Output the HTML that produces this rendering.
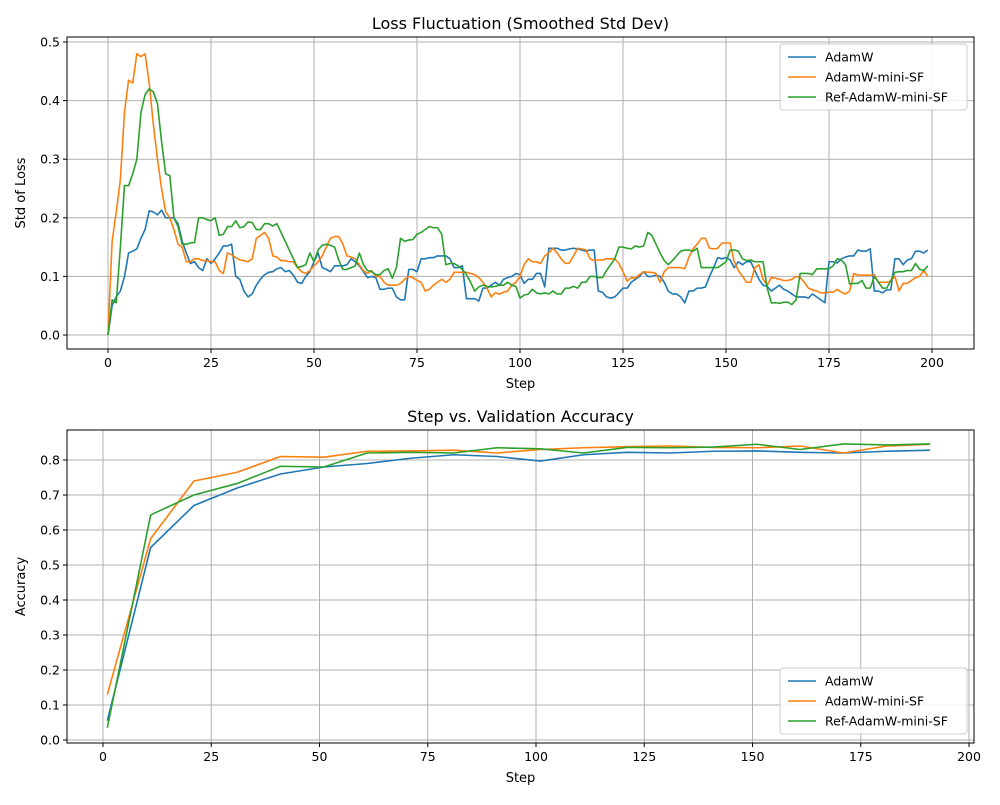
<!DOCTYPE html>
<html><head><meta charset="utf-8"><style>
body{margin:0;background:#fff}
svg{font-family:"DejaVu Sans","Liberation Sans",sans-serif}
</style></head><body>
<svg id="fig" width="1000" height="800" viewBox="0 0 1000 800"></svg>
<script>
const topAdamW=[0,0.05,0.065,0.075,0.1,0.14,0.143,0.147,0.165,0.18,0.212,0.21,0.205,0.213,0.2,0.2,0.2,0.19,0.16,0.14,0.122,0.125,0.115,0.11,0.13,0.122,0.13,0.14,0.152,0.152,0.155,0.1,0.095,0.075,0.065,0.07,0.085,0.095,0.103,0.107,0.108,0.113,0.115,0.108,0.11,0.102,0.09,0.088,0.1,0.108,0.125,0.14,0.115,0.112,0.108,0.118,0.118,0.118,0.12,0.13,0.125,0.118,0.108,0.098,0.1,0.098,0.078,0.078,0.08,0.08,0.065,0.06,0.06,0.112,0.112,0.108,0.13,0.13,0.132,0.132,0.135,0.135,0.135,0.13,0.115,0.115,0.118,0.062,0.062,0.062,0.058,0.08,0.08,0.085,0.09,0.085,0.095,0.098,0.1,0.105,0.103,0.088,0.095,0.095,0.105,0.105,0.082,0.148,0.148,0.148,0.145,0.145,0.147,0.148,0.147,0.145,0.143,0.145,0.145,0.075,0.073,0.065,0.063,0.065,0.072,0.08,0.08,0.09,0.095,0.1,0.108,0.1,0.1,0.102,0.1,0.09,0.075,0.07,0.07,0.065,0.055,0.075,0.075,0.08,0.08,0.082,0.1,0.115,0.132,0.13,0.132,0.128,0.115,0.125,0.12,0.125,0.125,0.11,0.095,0.085,0.083,0.075,0.08,0.085,0.078,0.075,0.07,0.065,0.065,0.065,0.063,0.07,0.065,0.06,0.055,0.125,0.125,0.123,0.13,0.133,0.135,0.135,0.145,0.143,0.143,0.147,0.075,0.075,0.072,0.077,0.077,0.13,0.13,0.12,0.128,0.13,0.143,0.143,0.14,0.145];
const topMiniSF=[0,0.16,0.21,0.265,0.38,0.435,0.43,0.48,0.475,0.48,0.43,0.36,0.3,0.25,0.21,0.2,0.18,0.155,0.15,0.125,0.125,0.13,0.13,0.127,0.127,0.125,0.125,0.11,0.105,0.14,0.137,0.132,0.128,0.127,0.125,0.13,0.165,0.17,0.175,0.165,0.135,0.133,0.127,0.127,0.125,0.125,0.115,0.108,0.105,0.11,0.118,0.125,0.135,0.15,0.165,0.168,0.168,0.155,0.135,0.133,0.13,0.12,0.11,0.105,0.11,0.1,0.1,0.09,0.085,0.085,0.085,0.088,0.095,0.1,0.098,0.093,0.09,0.075,0.078,0.085,0.09,0.095,0.09,0.095,0.107,0.107,0.107,0.107,0.105,0.103,0.098,0.09,0.08,0.065,0.072,0.07,0.073,0.075,0.085,0.09,0.1,0.12,0.13,0.125,0.125,0.122,0.135,0.14,0.148,0.14,0.13,0.122,0.123,0.135,0.148,0.147,0.145,0.13,0.127,0.128,0.128,0.13,0.13,0.13,0.122,0.108,0.092,0.098,0.097,0.103,0.108,0.107,0.107,0.105,0.09,0.108,0.115,0.115,0.115,0.115,0.113,0.133,0.147,0.155,0.165,0.165,0.148,0.147,0.148,0.157,0.157,0.157,0.125,0.11,0.1,0.09,0.09,0.115,0.12,0.095,0.085,0.098,0.097,0.095,0.093,0.093,0.095,0.1,0.098,0.09,0.08,0.077,0.075,0.072,0.072,0.073,0.073,0.078,0.073,0.07,0.075,0.105,0.102,0.102,0.102,0.102,0.103,0.09,0.09,0.09,0.092,0.1,0.075,0.088,0.088,0.093,0.098,0.1,0.11,0.1];
const topRef=[0,0.06,0.055,0.15,0.255,0.255,0.275,0.3,0.38,0.41,0.42,0.415,0.395,0.33,0.275,0.272,0.2,0.185,0.155,0.155,0.157,0.158,0.2,0.2,0.197,0.195,0.2,0.17,0.172,0.185,0.185,0.195,0.183,0.185,0.193,0.192,0.18,0.18,0.19,0.19,0.186,0.19,0.175,0.16,0.145,0.13,0.115,0.117,0.12,0.14,0.125,0.145,0.153,0.155,0.153,0.15,0.128,0.112,0.112,0.115,0.118,0.14,0.12,0.11,0.108,0.103,0.103,0.11,0.113,0.097,0.115,0.165,0.16,0.162,0.163,0.172,0.175,0.18,0.185,0.183,0.183,0.172,0.12,0.122,0.122,0.118,0.112,0.103,0.09,0.075,0.082,0.085,0.083,0.082,0.083,0.085,0.085,0.09,0.085,0.083,0.063,0.068,0.07,0.078,0.072,0.07,0.072,0.07,0.075,0.07,0.07,0.08,0.08,0.083,0.08,0.09,0.09,0.1,0.1,0.098,0.098,0.11,0.12,0.13,0.15,0.15,0.148,0.147,0.152,0.15,0.152,0.175,0.17,0.155,0.14,0.127,0.12,0.127,0.135,0.143,0.145,0.145,0.143,0.148,0.115,0.115,0.115,0.115,0.115,0.12,0.125,0.145,0.145,0.143,0.13,0.127,0.128,0.125,0.125,0.125,0.08,0.055,0.055,0.054,0.056,0.056,0.052,0.06,0.105,0.105,0.105,0.103,0.113,0.113,0.113,0.113,0.118,0.13,0.128,0.12,0.087,0.088,0.088,0.093,0.08,0.08,0.1,0.09,0.08,0.08,0.093,0.107,0.108,0.108,0.11,0.11,0.122,0.112,0.11,0.118];
const accSteps=[1,11,21,31,41,51,61,71,81,91,101,111,121,131,141,151,161,171,181,191];
const accAdamW=[0.055,0.55,0.67,0.72,0.76,0.78,0.79,0.805,0.815,0.81,0.797,0.815,0.822,0.82,0.825,0.826,0.822,0.82,0.825,0.828];
const accMiniSF=[0.13,0.575,0.74,0.765,0.81,0.808,0.825,0.826,0.828,0.82,0.83,0.835,0.838,0.84,0.836,0.835,0.84,0.82,0.84,0.845];
const accRef=[0.035,0.643,0.70,0.733,0.782,0.78,0.82,0.822,0.82,0.835,0.832,0.82,0.836,0.835,0.837,0.845,0.83,0.846,0.843,0.846];
const topXTicks=[0,25,50,75,100,125,150,175,200];
const topYTicks=[0,0.1,0.2,0.3,0.4,0.5];
const botXTicks=[0,25,50,75,100,125,150,175,200];
const botYTicks=[0,0.1,0.2,0.3,0.4,0.5,0.6,0.7,0.8];
const seriesNames=["AdamW","AdamW-mini-SF","Ref-AdamW-mini-SF"];
const colors=["#1f77b4","#ff7f0e","#2ca02c"];

const NS="http://www.w3.org/2000/svg";
const svg=document.getElementById('fig');
function mk(tag,attrs,parent){const e=document.createElementNS(NS,tag);for(const k in attrs)e.setAttribute(k,attrs[k]);(parent||svg).appendChild(e);return e;}

function drawAxes(cfg){
  const g=mk('g',{});
  
  
  const {L,R,T,B,x,y}=cfg;
  cfg.xt.forEach(v=>{
    const px=x(v);
    const gl=mk('line',{x1:px,x2:px,y1:T,y2:B,stroke:'#b0b0b0','stroke-width':1},g);
    
    mk('line',{x1:px,x2:px,y1:B,y2:B+4,stroke:'#000'},g);
    const t=mk('text',{x:px,y:B+18,'text-anchor':'middle','font-size':12.5},g);
    t.textContent=v;
    
  });
  cfg.yt.forEach(v=>{
    const py=y(v);
    const gl=mk('line',{x1:L,x2:R,y1:py,y2:py,stroke:'#b0b0b0','stroke-width':1},g);
    
    mk('line',{x1:L-4,x2:L,y1:py,y2:py,stroke:'#000'},g);
    const t=mk('text',{x:L-7,y:py+4.5,'text-anchor':'end','font-size':12.5},g);
    t.textContent=v.toFixed(1);
    
  });
  cfg.series.forEach((s,i)=>{
    const d=s.ys.map((v,j)=>(j?'L':'M')+x(s.xs[j]).toFixed(2)+','+y(v).toFixed(2)).join('');
    const p=mk('path',{d:d,fill:'none',stroke:colors[i],'stroke-width':1.6,'stroke-linejoin':'round'},g);
    
    
  });
  mk('rect',{x:L,y:T,width:R-L,height:B-T,fill:'none',stroke:'#000','stroke-width':1},g);
  const tt=mk('text',{x:(L+R)/2,y:T-8,'text-anchor':'middle','font-size':16},g);
  tt.textContent=cfg.title;
  const xl=mk('text',{x:(L+R)/2,y:B+39,'text-anchor':'middle','font-size':13},g);
  xl.textContent='Step';
  const yl=mk('text',{x:0,y:0,'text-anchor':'middle','font-size':13,transform:`translate(${cfg.ylx},${(T+B)/2}) rotate(-90)`},g);
  yl.textContent=cfg.ylabel;
  // legend
  const lg=mk('g',{},g);
  
  mk('rect',{x:cfg.lx,y:cfg.ly,width:187,height:66,rx:3,fill:'#fff','fill-opacity':0.85,stroke:'#cccccc'},lg);
  seriesNames.forEach((n,i)=>{
    const yy=cfg.ly+13+i*20;
    const e=mk('g',{},lg);
    
    mk('line',{x1:cfg.lx+8,x2:cfg.lx+36,y1:yy,y2:yy,stroke:colors[i],'stroke-width':1.6},e);
    const t=mk('text',{x:cfg.lx+45,y:yy+4.5,'font-size':12.5},e);t.textContent=n;
  });
}
const tx=v=>108+v*4.12, ty=v=>335-v*586;
const idx=topAdamW.map((_,i)=>i);
drawAxes({name:'loss-std-chart',L:67,R:974,T:37,B:349,x:tx,y:ty,xt:topXTicks,yt:topYTicks,title:'Loss Fluctuation (Smoothed Std Dev)',ylabel:'Std of Loss',ylx:25,lx:780,ly:44,
  series:[{xs:idx,ys:topAdamW},{xs:idx,ys:topMiniSF},{xs:idx,ys:topRef}]});
const bx=v=>103+v*4.33, by=v=>740-v*350;
drawAxes({name:'val-accuracy-chart',L:67,R:974,T:430,B:743,x:bx,y:by,xt:botXTicks,yt:botYTicks,title:'Step vs. Validation Accuracy',ylabel:'Accuracy',ylx:25,lx:780,ly:668,
  series:[{xs:accSteps,ys:accAdamW},{xs:accSteps,ys:accMiniSF},{xs:accSteps,ys:accRef}]});
</script>
</body></html>
